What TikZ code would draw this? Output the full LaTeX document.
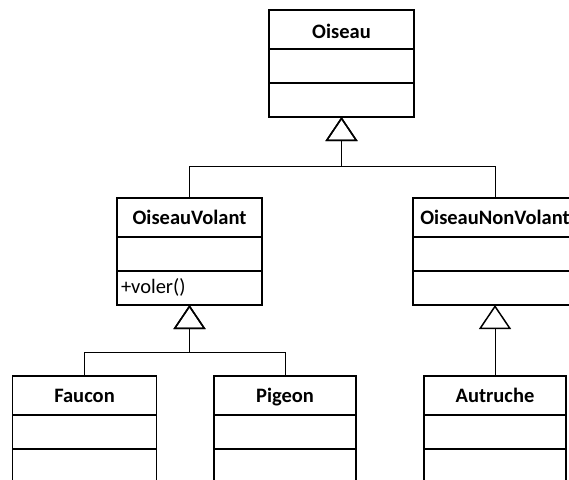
\documentclass[tikz,border=0pt]{standalone}
\usepackage{fontspec}
\setmainfont{Carlito}
\usetikzlibrary{arrows.meta, positioning}

\begin{document}
\begin{tikzpicture}[x=1pt, y=-1pt]

	\tikzstyle{titre}=[draw, line width=1.8pt, minimum height=39pt, inner sep=0pt, outer sep=0pt, font=\fontsize{20.5}{24}\selectfont\bfseries, text height=14pt, text depth=0pt]
	\tikzstyle{part}=[draw, line width=1.8pt, minimum height=34pt, inner sep=0pt, outer sep=0pt]
	\tikzstyle{herit}=[line width=1pt, -{Triangle[open, length=24pt, width=32pt, line width=1.5pt]}]

	\useasboundingbox (0, 0) rectangle (569, 479);
	\clip (0, 0) rectangle (569, 479);

	\coordinate (oiseau) at (341.5, 29.5); % NIVEAU 1
	\coordinate (volant) at (189.5, 217.5); % NIVEAU 2
	\coordinate (nonvolant) at (495, 217.5); % NIVEAU 2
	\coordinate (faucon) at (84.5, 395.5); % NIVEAU 3
	\coordinate (pigeon) at (285, 395.5); % NIVEAU 3
	\coordinate (autruche) at (495, 395.5); % NIVEAU 3

	\node[titre, minimum width=145pt, text height=18pt] (oiseau) at (oiseau) {Oiseau};
	\node[part, minimum width=145pt, below=0pt of oiseau] (oiseau_a) {};
	\node[part, minimum width=145pt, below=0pt of oiseau_a] (oiseau_m) {};

	\node[titre, minimum width=145pt] (volant) at (volant) {OiseauVolant};
	\node[part, minimum width=145pt, below=0pt of volant] (volant_a) {};
	\node[part, minimum width=145pt, below=0pt of volant_a, text width=137pt, align=left, font=\fontsize{20.5}{24}\selectfont, text height=15pt, text depth=4pt] (volant_m) {+voler()};

	\node[titre, minimum width=164pt] (nonvolant) at (nonvolant) {OiseauNonVolant};
	\node[part, minimum width=164pt, below=0pt of nonvolant] (nonvolant_a) {};
	\node[part, minimum width=164pt, below=0pt of nonvolant_a] (nonvolant_m) {};

	\node[titre, minimum width=144pt] (faucon) at (faucon) {Faucon};
	\node[part, minimum width=144pt, below=0pt of faucon] (faucon_a) {};
	\node[part, minimum width=144pt, below=0pt of faucon_a] (faucon_m) {};

	\node[titre, minimum width=142pt] (pigeon) at (pigeon) {Pigeon};
	\node[part, minimum width=142pt, below=0pt of pigeon] (pigeon_a) {};
	\node[part, minimum width=142pt, below=0pt of pigeon_a] (pigeon_m) {};

	\node[titre, minimum width=142pt] (autruche) at (autruche) {Autruche};
	\node[part, minimum width=142pt, below=0pt of autruche] (autruche_a) {};
	\node[part, minimum width=142pt, below=0pt of autruche_a] (autruche_m) {};

	\coordinate (j_oiseau) at (341.5, 166);
	\coordinate (j_volant) at (189.5, 352);

	\draw[herit] (volant.north) |- (j_oiseau) -- (oiseau_m.south);
	\draw[herit] (nonvolant.north) |- (j_oiseau) -- (oiseau_m.south);

	\draw[herit] (faucon.north) |- (j_volant) -- (volant_m.south);
	\draw[herit] (pigeon.north) |- (j_volant) -- (volant_m.south);

	\draw[herit] (autruche.north) -- (nonvolant_m.south);

\end{tikzpicture}
\end{document}
